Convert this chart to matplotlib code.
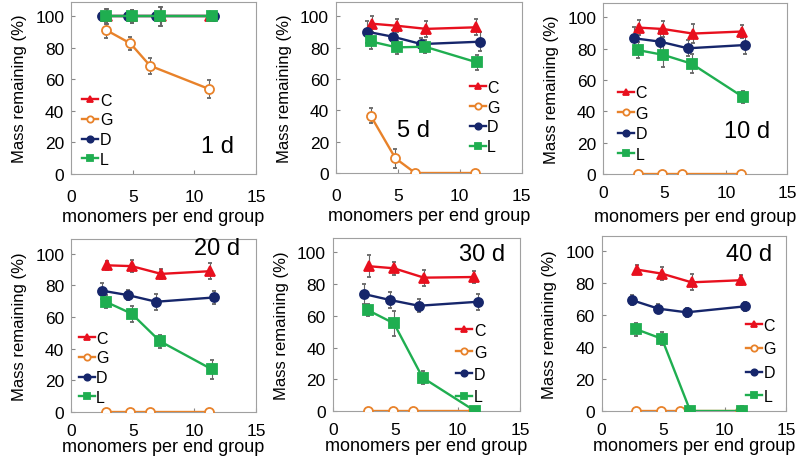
import matplotlib.pyplot as plt
import numpy as np

plt.rcParams['font.family'] = ['Liberation Sans', 'DejaVu Sans']

# x positions (monomers per end group) for each series
x_C = [2.9, 4.9, 7.3, 11.3]
x_G = [2.8, 4.8, 6.4, 11.2]
x_D = [2.5, 4.6, 6.9, 11.6]
x_L = [2.8, 4.9, 7.2, 11.4]

days = ["1 d", "5 d", "10 d", "20 d", "30 d", "40 d"]

# mass remaining (%) and error bars, one row per day
C_val = [[100, 100, 100, 100], [95.3, 94, 92, 93], [93.4, 92.5, 89.6, 90.9],
         [92.6, 92.1, 87.2, 88.9], [91.2, 89.9, 84, 84.4], [88.1, 85.6, 80.2, 81.5]]
C_err = [[5, 4, 6, 2], [5, 4, 5, 5], [5, 5, 6, 4],
         [3, 4, 3, 5], [7, 4, 5, 4], [3, 4, 5, 3]]
G_val = [[91.5, 82.9, 68.7, 53.9], [36.6, 9.4, 0, 0], [0, 0, 0, 0],
         [0, 0, 0, 0], [0, 0, 0, 0], [0, 0, 0, 0]]
G_err = [[5, 4, 5, 6], [5, 6, 0, 0], [0, 0, 0, 0],
         [0, 0, 0, 0], [0, 0, 0, 0], [0, 0, 0, 0]]
D_val = [[100, 100, 100, 100], [90.2, 87, 82.3, 83.8], [86.6, 84.5, 80.2, 82.3],
         [76.6, 73.8, 69.6, 72.3], [73.7, 69.9, 66.3, 68.8], [69, 63.8, 61.5, 65.2]]
D_err = [[2, 2, 2, 2], [7, 4, 4, 6], [7, 7, 5, 6],
         [5, 3, 5, 4], [6, 5, 4, 5], [3, 3, 3, 3]]
L_val = [[100, 100, 100, 100], [84, 80.2, 80.6, 70.6], [79.1, 76, 70.4, 49.1],
         [69.6, 62.1, 44.7, 27], [63.6, 55.2, 21, 0], [51, 45, 0, 0]]
L_err = [[5, 4, 6, 3], [5, 4, 4, 5], [5, 8, 6, 4],
         [4, 5, 4, 6], [4, 8, 4, 0], [4, 4, 0, 3]]

series = [
    ("C", x_C, C_val, C_err, "^", "#e8101e", "#e8101e"),
    ("G", x_G, G_val, G_err, "o", "#e8822a", "white"),
    ("D", x_D, D_val, D_err, "o", "#16266b", "#16266b"),
    ("L", x_L, L_val, L_err, "s", "#1fae50", "#1fae50"),
]

# axes placement [left, bottom, width, height]
boxes = [
    [0.089, 0.623, 0.231, 0.370], [0.420, 0.625, 0.232, 0.368], [0.754, 0.623, 0.230, 0.368],
    [0.089, 0.110, 0.231, 0.372], [0.416, 0.112, 0.234, 0.373], [0.752, 0.112, 0.231, 0.377],
]
# legend lower-left corner (axes fraction) and row spacing
legend_pos = [(0.06, 0.04, 0.3), (0.72, 0.11, 0.3), (0.08, 0.07, 0.35),
              (0.04, 0.04, 0.3), (0.66, 0.04, 0.45), (0.78, 0.04, 0.55)]
day_pos = [(0.79, 0.16), (0.42, 0.25), (0.78, 0.25), (0.79, 0.95), (0.80, 0.91), (0.80, 0.90)]
# x tick pad and xlabel pad per panel
xpads = [(11, 3), (11, 3), (8, 6), (8, 0), (8, 0), (8, 0)]

fig = plt.figure(figsize=(8, 4.64), dpi=100)

for i, day in enumerate(days):
    ax = fig.add_axes(boxes[i])
    for name, xs, vals, errs, mk, col, fc in series:
        ax.errorbar(xs, vals[i], yerr=errs[i], color=col, marker=mk, markersize=6.5,
                    markerfacecolor=fc, markeredgecolor=col, markeredgewidth=1.3,
                    lw=1.7, ecolor="#666666", elinewidth=0.8, capsize=1.5, label=name,
                    zorder=3)
    ax.set_xlim(0, 15)
    ax.set_ylim(0, 109)
    ax.set_xticks([0, 5, 10, 15])
    ax.set_yticks([0, 20, 40, 60, 80, 100])
    ax.tick_params(direction="in", length=3, color="#888888", labelsize=12.5, pad=5)
    ax.tick_params(axis="x", pad=xpads[i][0])
    for s in ax.spines.values():
        s.set_color("#a0a0a0")
    ax.set_ylabel("Mass remaining (%)", fontsize=12, labelpad=6)
    ax.set_xlabel("monomers per end group", fontsize=13, labelpad=xpads[i][1])
    handles, labels = ax.get_legend_handles_labels()
    handles = [h[0] for h in handles]
    lx, ly, sp = legend_pos[i]
    ax.legend(handles, labels, loc="lower left", bbox_to_anchor=(lx, ly), frameon=False,
              fontsize=11.5, handlelength=1.0, handletextpad=0.1, labelspacing=sp,
              borderaxespad=0, borderpad=0, markerscale=0.7)
    ax.text(day_pos[i][0], day_pos[i][1], day, transform=ax.transAxes, fontsize=17,
            ha="center", va="center")

fig.savefig("out.png", dpi=100)
